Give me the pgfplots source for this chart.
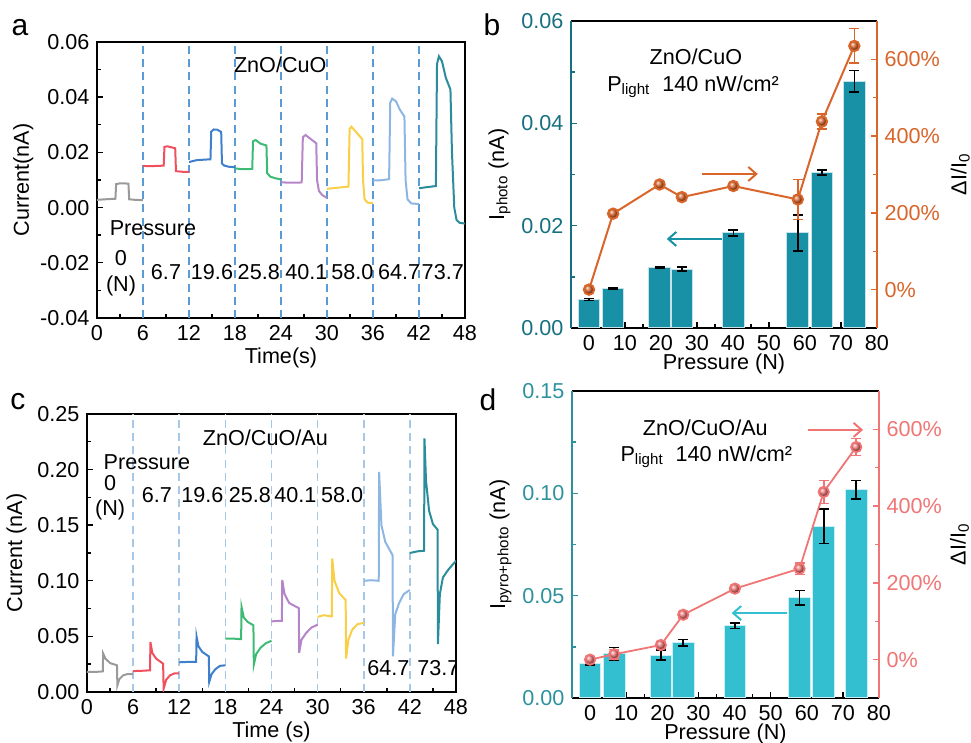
\documentclass[border=0pt]{standalone}
\usepackage{fontspec}
\setmainfont{Liberation Sans}
\usepackage{pgfplots}
\pgfplotsset{compat=1.18}
\usetikzlibrary{arrows.meta}
\definecolor{tealbar}{HTML}{1890A6}
\definecolor{tealax}{HTML}{17707F}
\definecolor{orangec}{HTML}{D9652B}
\definecolor{cyanbar}{HTML}{33BFD0}
\definecolor{cyanax}{HTML}{2E929E}
\definecolor{pinkc}{HTML}{F07575}
\definecolor{dashA}{HTML}{5B9BD5}
\definecolor{dashC}{HTML}{A6C8E6}
\definecolor{cA}{HTML}{9A9A9A}
\definecolor{cB}{HTML}{F0505E}
\definecolor{cC}{HTML}{3F7FCB}
\definecolor{cD}{HTML}{3DBB75}
\definecolor{cE}{HTML}{B486C8}
\definecolor{cF}{HTML}{F9CF48}
\definecolor{cG}{HTML}{8DB6E2}
\definecolor{cH}{HTML}{2B8C9B}
\pgfplotsset{
  base/.style={scale only axis, anchor=south west, tick align=inside,
    major tick length=3.2pt, minor tick length=1.8pt,
    /pgf/number format/assume math mode=true,
    axis line style={line width=0.9pt}, every tick/.style={line width=0.7pt},
    scaled y ticks=false, label style={font=\fontsize{10.8}{13}\selectfont},
    tick label style={font=\fontsize{10.8}{13}\selectfont}},
  ts/.style={line width=1pt},
  rlabel/.style={every axis y label/.style={at={(axis description cs:#1,0.5)}, rotate=90, anchor=center}},
}
\begin{document}
\fontsize{10.8}{13}\selectfont
\begin{tikzpicture}
\path[use as bounding box] (0,0) rectangle (485.5pt,371.5pt);
% ---------- panel a ----------
\begin{axis}[base, at={(48.5pt,212.5pt)}, width=184pt, height=138pt,
  xmin=0, xmax=48, ymin=-0.04, ymax=0.06,
  xtick={0,6,...,48}, ytick={-0.04,-0.02,0,0.02,0.04,0.06},
  minor x tick num=1, minor y tick num=1, xtick pos=left, ytick pos=left,
  yticklabel style={/pgf/number format/.cd, fixed, fixed zerofill, precision=2},
  xlabel={Time(s)}, ylabel={Current(nA)},
  xlabel style={yshift=4pt}, ylabel style={yshift=-4pt}]
\foreach \t in {6,12,...,42}{
  \edef\tmp{\noexpand\addplot[dashA, line width=0.8pt, dash pattern=on 4pt off 2.6pt] coordinates {(\t,-0.04) (\t,0.06)};}\tmp
}
\addplot[cA, ts] coordinates {(0,0.0028) (1,0.0030) (2.4,0.0032) (2.5,0.0085) (3,0.0088) (4.1,0.0087) (4.2,0.0030) (5,0.0028) (6,0.0027)};
\addplot[cB, ts] coordinates {(6,0.0151) (7,0.0150) (8.7,0.0152) (8.8,0.0220) (9.2,0.0222) (10.2,0.0215) (10.3,0.0132) (11,0.0130) (12,0.0129)};
\addplot[cC, ts] coordinates {(12,0.0165) (13,0.0172) (14.8,0.0175) (14.9,0.0275) (15.2,0.0283) (15.7,0.0282) (16.2,0.0274) (16.3,0.0160) (16.6,0.0152) (17.2,0.0148) (18,0.0146)};
\addplot[cD, ts] coordinates {(18,0.0142) (19,0.0139) (20.25,0.0140) (20.35,0.0240) (20.7,0.0245) (21.3,0.0232) (22.1,0.0225) (22.2,0.0125) (22.6,0.0112) (23.3,0.0106) (24,0.0102)};
\addplot[cE, ts] coordinates {(24,0.0092) (25,0.0090) (26.7,0.0091) (26.85,0.0255) (27.2,0.0263) (27.8,0.0250) (28.6,0.0233) (28.7,0.0100) (28.95,0.0060) (29.4,0.0045) (30,0.0035)};
\addplot[cF, ts] coordinates {(30,0.0068) (31,0.0071) (32.8,0.0076) (32.95,0.0285) (33.2,0.0293) (33.6,0.0280) (34.6,0.0248) (34.7,0.0100) (34.9,0.0030) (35.3,0.0018) (36,0.0016)};
\addplot[cG, ts] coordinates {(36,0.0098) (37,0.0099) (38.1,0.0103) (38.25,0.0380) (38.5,0.0395) (39,0.0385) (39.5,0.0355) (40.1,0.0330) (40.25,0.0100) (40.5,0.0030) (41,0.0015) (42,0.0013)};
\addplot[cH, ts] coordinates {(42,0.0070) (43,0.0074) (44.2,0.0078) (44.35,0.0520) (44.6,0.0548) (45,0.0530) (45.5,0.0470) (46.1,0.0428) (46.3,0.0200) (46.6,0.0000) (46.9,-0.0045) (47.3,-0.0055) (48,-0.0058)};
\node at (axis cs:23.9,0.0517) {ZnO/CuO};
\node at (axis cs:7.3,-0.0073) {Pressure};
\node at (axis cs:3.13,-0.0182) {0};
\node at (axis cs:3.13,-0.0285) {(N)};
\node at (axis cs:9.0,-0.0233) {6.7};
\node at (axis cs:15.0,-0.0233) {19.6};
\node at (axis cs:21.1,-0.0233) {25.8};
\node at (axis cs:27.3,-0.0233) {40.1};
\node at (axis cs:33.3,-0.0233) {58.0};
\node at (axis cs:39.4,-0.0233) {64.7};
\node at (axis cs:45.1,-0.0233) {73.7};
\end{axis}
% ---------- panel c ----------
\begin{axis}[base, at={(43.5pt,25.5pt)}, width=184.5pt, height=139pt,
  xmin=0, xmax=48, ymin=0, ymax=0.25,
  xtick={0,6,...,48}, ytick={0,0.05,0.1,0.15,0.2,0.25},
  minor x tick num=1, minor y tick num=1, xtick pos=left, ytick pos=left,
  yticklabel style={/pgf/number format/.cd, fixed, fixed zerofill, precision=2},
  xlabel={Time (s)}, ylabel={Current (nA)},
  xlabel style={yshift=4pt}, ylabel style={yshift=-2pt}]
\foreach \t in {6,12,...,42}{
  \edef\tmp{\noexpand\addplot[dashC, line width=0.8pt, dash pattern=on 4pt off 2.6pt] coordinates {(\t,0) (\t,0.25)};}\tmp
}
\addplot[cA, ts] coordinates {(0,0.018) (1,0.018) (2.05,0.0185) (2.1,0.0346) (2.4,0.030) (3,0.026) (3.9,0.024) (3.95,0.006) (4.2,0.0115) (4.7,0.015) (5.3,0.0162) (6,0.016)};
\addplot[cB, ts] coordinates {(6,0.0188) (7,0.019) (8.2,0.0195) (8.25,0.045) (8.5,0.035) (9,0.030) (9.9,0.0255) (9.97,0.003) (10.3,0.011) (10.8,0.015) (11.4,0.0168) (12,0.0168)};
\addplot[cC, ts] coordinates {(12,0.0267) (13,0.027) (14.2,0.027) (14.25,0.050) (14.5,0.041) (15,0.036) (15.85,0.032) (15.9,0.009) (16.2,0.016) (16.7,0.0205) (17.3,0.0235) (18,0.024)};
\addplot[cD, ts] coordinates {(18,0.048) (19,0.048) (20.05,0.0475) (20.1,0.0766) (20.4,0.067) (20.9,0.063) (21.65,0.060) (21.7,0.0246) (22,0.034) (22.6,0.040) (23.3,0.044) (24,0.046)};
\addplot[cE, ts] coordinates {(24,0.0635) (25,0.064) (25.35,0.064) (25.4,0.1007) (25.7,0.088) (26.3,0.080) (27.55,0.0754) (27.6,0.0352) (27.9,0.047) (28.5,0.053) (29.2,0.058) (30,0.0605)};
\addplot[cF, ts] coordinates {(30,0.0676) (30.8,0.069) (31.85,0.068) (31.9,0.120) (32.2,0.100) (32.8,0.089) (33.65,0.0826) (33.7,0.030) (34,0.047) (34.5,0.056) (35.2,0.061) (36,0.0622)};
\addplot[cG, ts] coordinates {(36,0.100) (37,0.1005) (37.95,0.100) (38.0,0.198) (38.3,0.150) (38.8,0.135) (39.75,0.123) (39.8,0.032) (40.1,0.070) (40.6,0.080) (41.2,0.088) (42,0.0917)};
\addplot[cH, ts] coordinates {(42,0.125) (43,0.1265) (43.85,0.127) (43.9,0.228) (44.1,0.19) (44.5,0.163) (45,0.151) (45.6,0.146) (45.65,0.043) (45.9,0.088) (46.3,0.103) (47,0.110) (48,0.118)};
\node at (axis cs:23.2,0.229) {ZnO/CuO/Au};
\node at (axis cs:7.8,0.207) {Pressure};
\node at (axis cs:3.0,0.188) {0};
\node at (axis cs:3.0,0.164) {(N)};
\node at (axis cs:9.1,0.177) {6.7};
\node at (axis cs:15.0,0.177) {19.6};
\node at (axis cs:21.2,0.177) {25.8};
\node at (axis cs:27.1,0.177) {40.1};
\node at (axis cs:33.2,0.177) {58.0};
\node at (axis cs:39.2,0.0216) {64.7};
\node at (axis cs:45.7,0.0216) {73.7};
\end{axis}
% ---------- panel b ----------
\begin{axis}[base, at={(285.5pt,207.5pt)}, width=153pt, height=153.5pt,
  xmin=-5, xmax=80, ymin=0, ymax=0.06,
  xtick={0,10,...,80}, minor x tick num=1, ytick={0,0.02,0.04,0.06}, minor y tick num=1,
  xtick pos=left, ytick pos=left, separate axis lines,
  y axis line style={tealax}, ytick style={tealax},
  yticklabel style={text=tealax, /pgf/number format/.cd, fixed, fixed zerofill, precision=2},
  xlabel={Pressure (N)}, ylabel={I\textsubscript{photo} (nA)},
  xlabel style={yshift=6pt}, ylabel style={yshift=-2pt}]
\addplot[ybar, bar width=6, fill=tealbar, draw=white!75!tealbar, line width=0.5pt,
  error bars/.cd, y dir=both, y explicit,
  error bar style={black, line width=0.8pt},
  error mark options={rotate=90, black, mark size=2.5pt, line width=0.8pt}]
  table[x=x, y=y, y error=e] {
x y e
0 0.0056 0.0002
6.7 0.0077 0.0001
19.6 0.0118 0.0001
25.8 0.0115 0.0004
40.1 0.0186 0.0006
58.0 0.0186 0.0035
64.7 0.0304 0.0005
73.7 0.0482 0.0021
};
\addplot[orangec, line width=1pt, -{Straight Barb[length=4pt,width=7pt]}] coordinates {(31.4,0.0301) (46.9,0.0301)};
\addplot[tealbar, line width=1pt, -{Straight Barb[length=4pt,width=7pt]}] coordinates {(36.9,0.0174) (21.6,0.0174)};
\node at (axis cs:29.7,0.0530) {ZnO/CuO};
\node at (axis cs:28.9,0.0471) {P\textsubscript{light}\ \ 140 nW/cm²};
\end{axis}
\begin{axis}[base, at={(285.5pt,207.5pt)}, width=153pt, height=153.5pt,
  xmin=-5, xmax=80, ymin=-100, ymax=700, axis y line*=right, axis x line=none,
  ytick={0,200,400,600}, minor y tick num=1,
  yticklabel={\pgfmathprintnumber{\tick}\%},
  y axis line style={orangec}, ytick style={orangec}, yticklabel style={text=orangec},
  rlabel=1.272, ylabel={ΔI/I\textsubscript{0}}]
\addplot[orangec, line width=1pt, mark=ball, mark size=2.6pt, mark options={ball color=orangec},
  error bars/.cd, y dir=both, y explicit,
  error bar style={orangec, line width=0.8pt},
  error mark options={rotate=90, orangec, mark size=2.5pt, line width=0.8pt}]
  table[x=x, y=y, y error=e] {
x y e
0 0 4
6.7 198 6
19.6 274 8
25.8 241 6
40.1 270 6
58.0 235 52
64.7 438 19
73.7 635 45
};
\end{axis}
% ---------- panel d ----------
\begin{axis}[base, at={(286pt,22.5pt)}, width=153.5pt, height=153.5pt,
  xmin=-5, xmax=80, ymin=0, ymax=0.15,
  xtick={0,10,...,80}, minor x tick num=1, ytick={0,0.05,0.1,0.15}, minor y tick num=1,
  xtick pos=left, ytick pos=left, separate axis lines,
  y axis line style={cyanax}, ytick style={cyanax},
  yticklabel style={text=cyanax, /pgf/number format/.cd, fixed, fixed zerofill, precision=2},
  xlabel={Pressure (N)}, ylabel={I\textsubscript{pyro+photo} (nA)},
  xlabel style={yshift=6pt}, ylabel style={yshift=-2pt}]
\addplot[ybar, bar width=6, fill=cyanbar, draw=white!75!cyanbar, line width=0.5pt,
  error bars/.cd, y dir=both, y explicit,
  error bar style={black, line width=0.8pt},
  error mark options={rotate=90, black, mark size=2.5pt, line width=0.8pt}]
  table[x=x, y=y, y error=e] {
x y e
0 0.0168 0.0008
6.7 0.0217 0.0030
19.6 0.0210 0.0025
25.8 0.0269 0.0016
40.1 0.0352 0.0013
58.0 0.0490 0.0035
64.7 0.0839 0.0085
73.7 0.1018 0.0045
};
\addplot[pinkc, line width=1pt, -{Straight Barb[length=4pt,width=7pt]}] coordinates {(60.3,0.131) (75.6,0.131)};
\addplot[cyanbar, line width=1pt, -{Straight Barb[length=4pt,width=7pt]}] coordinates {(54.4,0.0415) (39.2,0.0415)};
\node at (axis cs:31.9,0.132) {ZnO/CuO/Au};
\node at (axis cs:32.2,0.118) {P\textsubscript{light}\ \ 140 nW/cm²};
\end{axis}
\begin{axis}[base, at={(286pt,22.5pt)}, width=153.5pt, height=153.5pt,
  xmin=-5, xmax=80, ymin=-100, ymax=700, axis y line*=right, axis x line=none,
  ytick={0,200,400,600}, minor y tick num=1,
  yticklabel={\pgfmathprintnumber{\tick}\%},
  y axis line style={pinkc}, ytick style={pinkc}, yticklabel style={text=pinkc},
  rlabel=1.262, ylabel={ΔI/I\textsubscript{0}}]
\addplot[pinkc, line width=0.9pt, mark=ball, mark size=2.6pt, mark options={ball color=pinkc},
  error bars/.cd, y dir=both, y explicit,
  error bar style={pinkc, line width=0.8pt},
  error mark options={rotate=90, pinkc, mark size=2.5pt, line width=0.8pt}]
  table[x=x, y=y, y error=e] {
x y e
0 0 5
6.7 14 12
19.6 38 8
25.8 117 8
40.1 185 8
58.0 237 15
64.7 437 30
73.7 554 22
};
\end{axis}
% panel letters
\node[font=\fontsize{15}{18}\selectfont] at (10pt,357.5pt) {a};
\node[font=\fontsize{15}{18}\selectfont] at (246pt,359pt) {b};
\node[font=\fontsize{15}{18}\selectfont] at (9pt,170.5pt) {c};
\node[font=\fontsize{15}{18}\selectfont] at (244pt,171.5pt) {d};
\end{tikzpicture}
\end{document}
